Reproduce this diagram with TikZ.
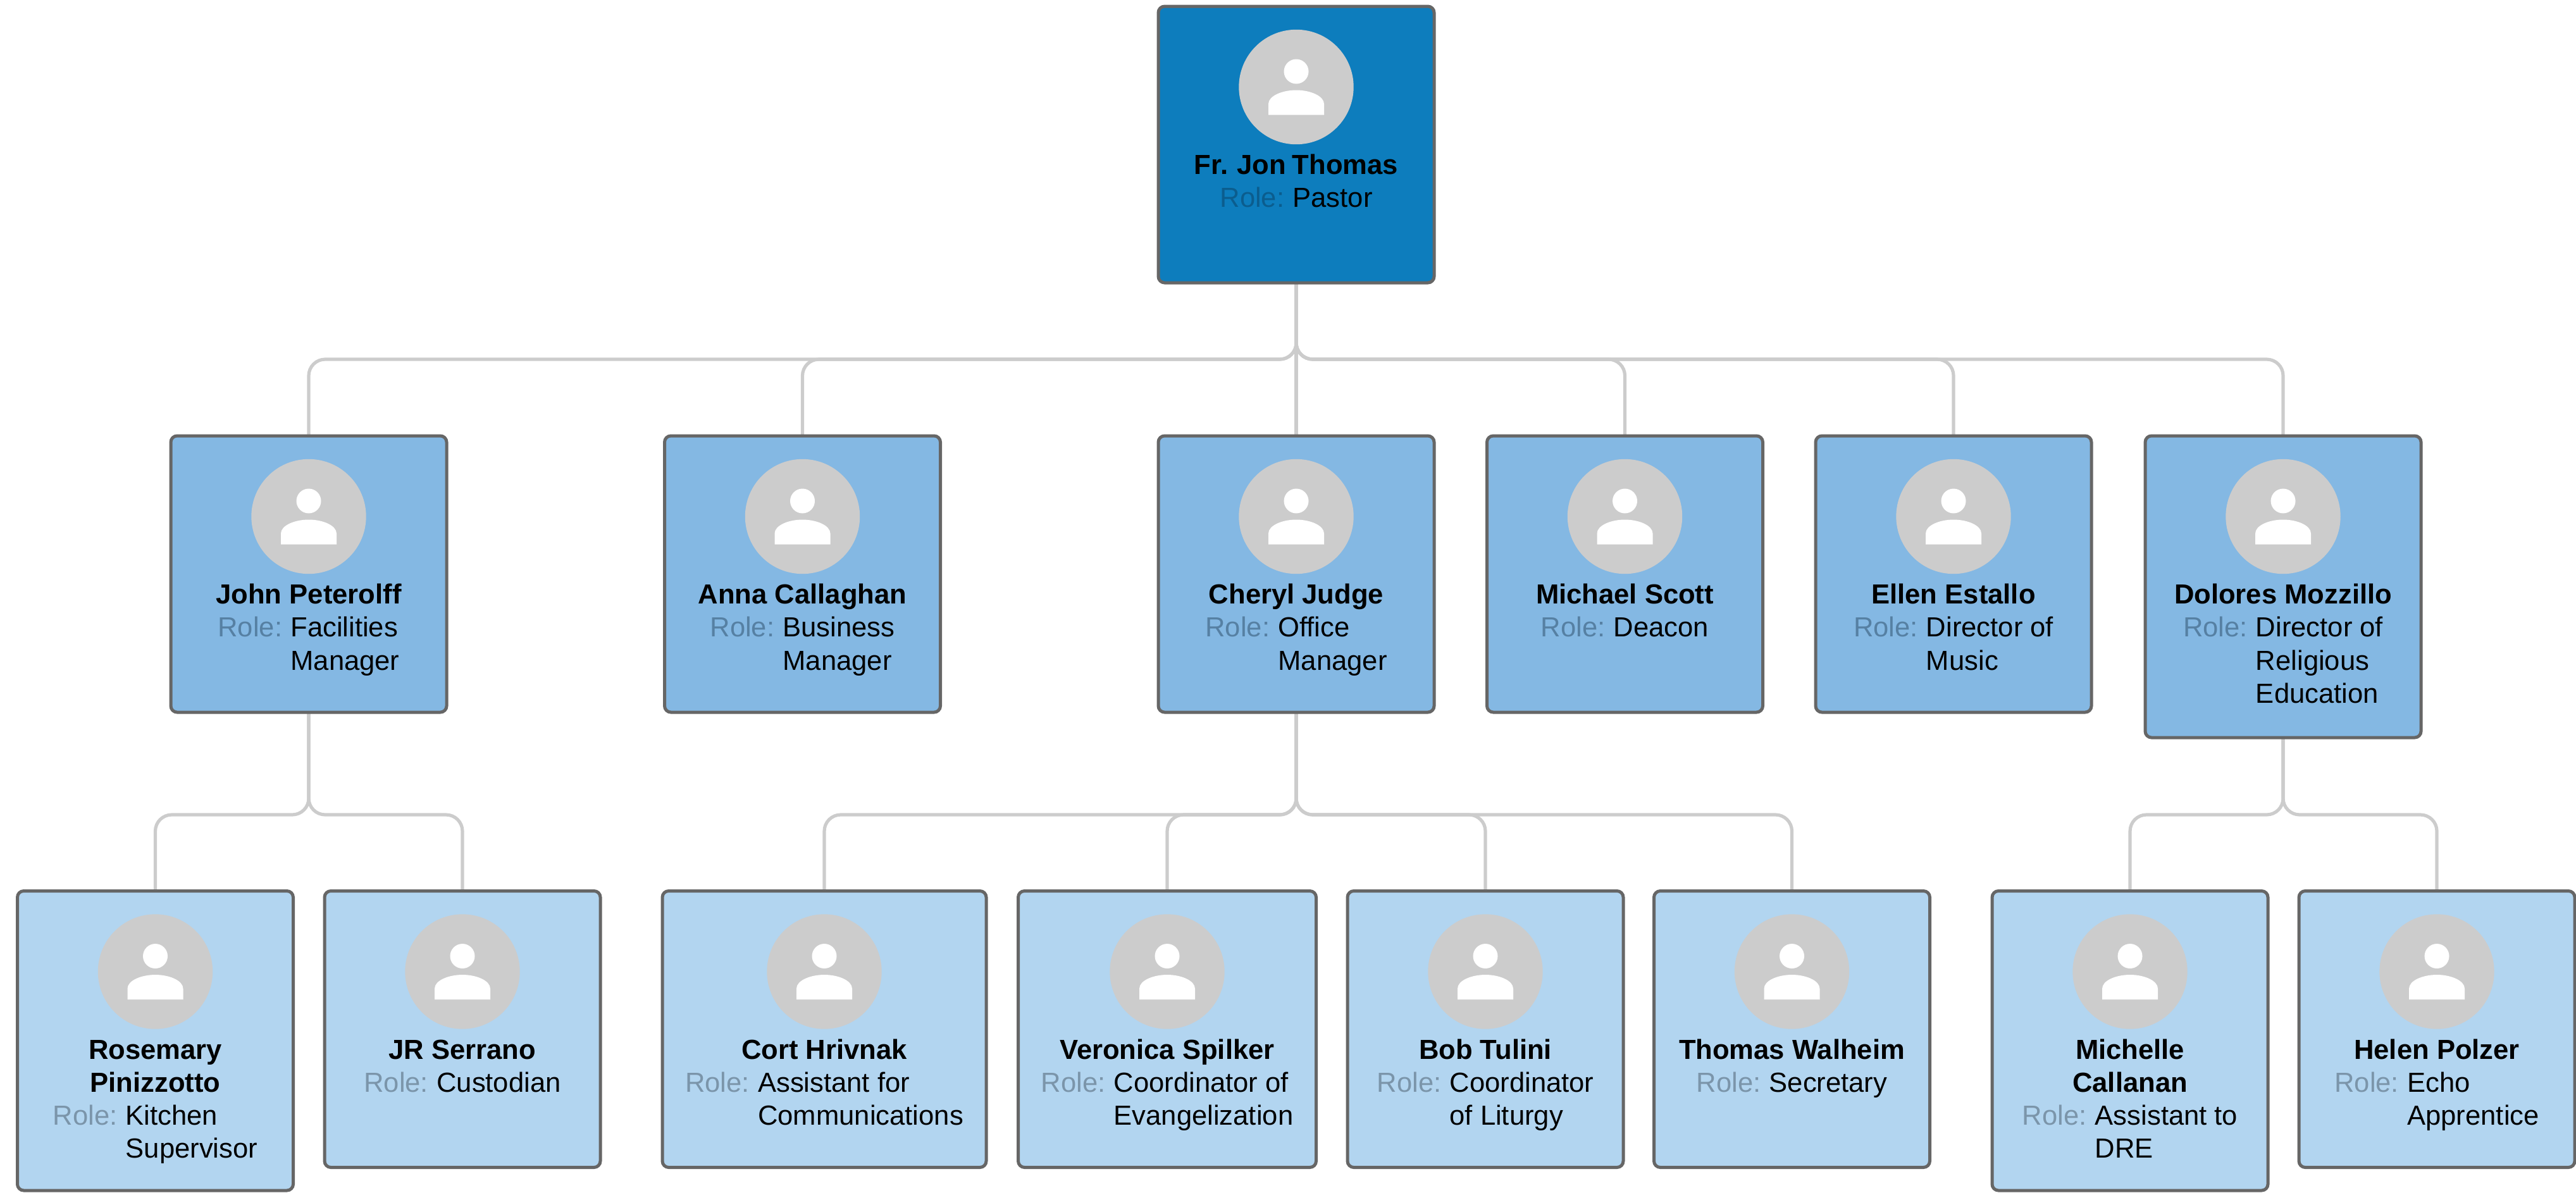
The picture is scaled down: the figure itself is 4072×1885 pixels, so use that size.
\documentclass[tikz,border=0pt]{standalone}
\usepackage{fontspec}
\usepackage{array}
\setmainfont{Liberation Sans}
\usetikzlibrary{backgrounds}
\definecolor{fillA}{HTML}{0D7DBD}
\definecolor{fillB}{HTML}{84B8E3}
\definecolor{fillC}{HTML}{B2D5F0}
\definecolor{roleA}{HTML}{0B5D8E}
\definecolor{roleB}{HTML}{5680A3}
\definecolor{roleC}{HTML}{7B95AA}
\definecolor{edgegray}{HTML}{666666}
\definecolor{conngray}{HTML}{CCCCCC}
\tikzset{
  x=0.5pt,y=-0.5pt,
  personbox/.style={draw=edgegray,line width=2.5pt,rounded corners=5pt,rectangle,anchor=north,outer sep=0pt,inner sep=0pt},
  boxA/.style={personbox,fill=fillA},
  boxB/.style={personbox,fill=fillB},
  boxC/.style={personbox,fill=fillC},
  photo/.style={circle,fill=conngray,minimum size=90.7pt,inner sep=0pt,outer sep=0pt},
  label/.style={anchor=base,inner sep=0pt,outer sep=0pt,text=black,font=\fontsize{21.8}{26.15}\selectfont},
  conn/.style={draw=conngray,line width=2.6pt,rounded corners=13pt},
}
% id, cx, top, width(px), height(px), level, name, role value, number of name lines
\newcommand{\personcard}[9]{%
  \node[box#6,minimum width=#4*0.5pt,minimum height=#5*0.5pt] (#1) at (#2,#3) {};
  \node[photo] (#1-photo) at (#2,{#3+127.5}) {};
  \begin{scope}[shift={(#2,{#3+127.5})}]
    \fill[white] (0,-24.5) circle[radius=9.75pt];
    \fill[white] (-44,44) -- (-44,27) .. controls (-44,14) and (-22,5) .. (0,5)
      .. controls (22,5) and (44,14) .. (44,27) -- (44,44) -- cycle;
  \end{scope}
  \node[label] (#1-name) at (#2,{#3+265.5}) {\begin{tabular}[t]{@{}>{\bfseries}c@{}}#7\end{tabular}};
  \node[label] (#1-role) at (#2,{#3+265.5+52.3*#9}) {\begin{tabular}[t]{@{}r@{\hspace{6.6pt}}l@{}}\textcolor{role#6}{Role:} & #8\end{tabular}};
}
\begin{document}
\begin{tikzpicture}
\useasboundingbox (0,0) rectangle (4072,1885);
\personcard{top}{2049}{10}{436}{437}{A}{Fr.\hspace{-1pt} Jon\hspace{-1pt} Thomas}{Pastor}{1}
\personcard{john}{488}{689}{436}{437}{B}{John Peterolff}{Facilities\\&Manager}{1}
\personcard{anna}{1268.5}{689}{436}{437}{B}{Anna Callaghan}{Business\\&Manager}{1}
\personcard{cheryl}{2049}{689}{436}{437}{B}{Cheryl Judge}{Office\\&Manager}{1}
\personcard{michael}{2568.5}{689}{436}{437}{B}{Michael Scott}{Deacon}{1}
\personcard{ellen}{3088}{689}{436}{437}{B}{Ellen Estallo}{Director of\\&Music}{1}
\personcard{dolores}{3609}{689}{436}{477}{B}{Dolores Mozzillo}{Director of\\&Religious\\&Education}{1}
\personcard{rosemary}{245.5}{1408.5}{436}{473.5}{C}{Rosemary\\Pinizzotto}{Kitchen\\&Supervisor}{2}
\personcard{jr}{731}{1408.5}{436}{437}{C}{JR Serrano}{Custodian}{1}
\personcard{cort}{1303}{1408.5}{512}{437}{C}{Cort Hrivnak}{Assistant for\\&Communications}{1}
\personcard{veronica}{1845}{1408.5}{471}{437}{C}{Veronica Spilker}{Coordinator of\\&Evangelization}{1}
\personcard{bob}{2348}{1408.5}{436}{437}{C}{Bob Tulini}{Coordinator\\&of Liturgy}{1}
\personcard{thomas}{2832.5}{1408.5}{436}{437}{C}{Thomas Walheim}{Secretary}{1}
\personcard{michelle}{3367}{1408.5}{436}{473.5}{C}{Michelle\\Callanan}{Assistant to\\&DRE}{2}
\personcard{helen}{3852}{1408.5}{436}{437}{C}{Helen Polzer}{Echo\\&Apprentice}{1}
\coordinate (busA) at (0,568);
\coordinate (busB) at (0,1288);
\begin{scope}[on background layer]
  \draw[conn] (top.south) -- (cheryl.north);
  \foreach \c in {john,anna,michael,ellen,dolores}
    \draw[conn] (top.south) -- (top.south |- busA) -- (\c.north |- busA) -- (\c.north);
  \foreach \c in {rosemary,jr}
    \draw[conn] (john.south) -- (john.south |- busB) -- (\c.north |- busB) -- (\c.north);
  \foreach \c in {cort,veronica,bob,thomas}
    \draw[conn] (cheryl.south) -- (cheryl.south |- busB) -- (\c.north |- busB) -- (\c.north);
  \foreach \c in {michelle,helen}
    \draw[conn] (dolores.south) -- (dolores.south |- busB) -- (\c.north |- busB) -- (\c.north);
\end{scope}
\end{tikzpicture}
\end{document}
